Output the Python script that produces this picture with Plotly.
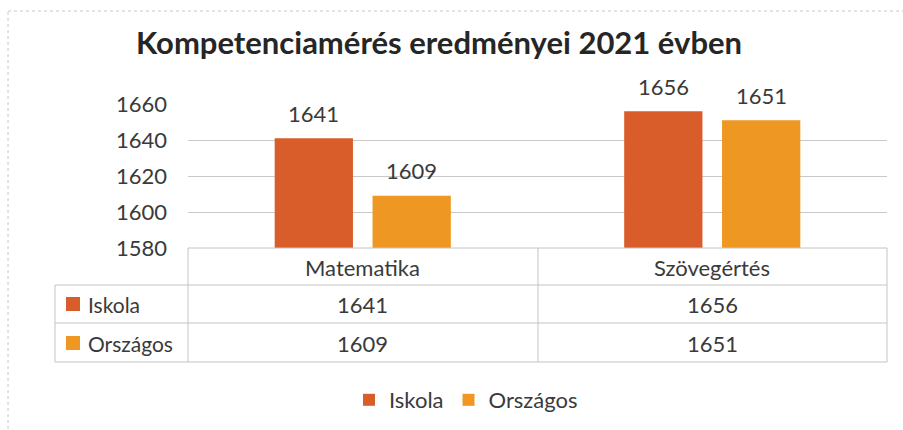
import plotly.graph_objects as go

categories = ["Matematika", "Szövegértés"]
series_names = ["Iskola", "Országos"]
iskola = [1641, 1656]
orszagos = [1609, 1651]
y_ticks = [1580, 1600, 1620, 1640, 1660]
title_text = "Kompetenciamérés eredményei 2021 évben"

colors = ["#D95D2A", "#EE9722"]
txt = "#3a3a3a"
font = "Lato"
fs = 22

W, H = 903, 430
L, R, T, B = 188, 16, 104, 182
pw = W - L - R
ph = H - T - B
bargap, bargroupgap = 0.44, 0.2


def px(x):
    return (x - L) / pw


def py(y):
    return (H - B - y) / ph


fig = go.Figure()
for name, vals, c in zip(series_names, [iskola, orszagos], colors):
    fig.add_trace(go.Bar(
        x=categories, y=vals, name=name, marker=dict(color=c, line=dict(width=0)),
    ))

shapes = []
grid_col = "#c4c4c4"
# outer border
shapes.append(dict(type="rect", xref="paper", yref="paper", x0=px(8), x1=px(910), y0=py(11), y1=py(440),
                   line=dict(color="#c8c8c8", width=1, dash="dot")))
# table horizontal lines
for yy, x0 in [(248, 188), (285, 55), (323, 55), (362, 55)]:
    shapes.append(dict(type="line", xref="paper", yref="paper", x0=px(x0), x1=px(887), y0=py(yy), y1=py(yy),
                       line=dict(color=grid_col, width=1)))
# table vertical lines
for xx, y0 in [(55, 285), (188, 248), (538, 248), (887, 248)]:
    shapes.append(dict(type="line", xref="paper", yref="paper", x0=px(xx), x1=px(xx), y0=py(y0), y1=py(362),
                       line=dict(color=grid_col, width=1)))
# legend keys in table
row_centers = [304, 343]
for yc, c in zip(row_centers, colors):
    shapes.append(dict(type="rect", xref="paper", yref="paper", x0=px(66), x1=px(80), y0=py(yc - 7), y1=py(yc + 7),
                       fillcolor=c, line=dict(width=0)))

annotations = []
# bar value labels
cat_w = pw / len(categories)
slot = cat_w * (1 - bargap) / len(series_names)
for i, vals in enumerate([iskola, orszagos]):
    shift = (i - (len(series_names) - 1) / 2) * slot
    for cat, v in zip(categories, vals):
        annotations.append(dict(x=cat, xref="x", y=v, yref="y", text=str(v), showarrow=False,
                                xshift=shift, yshift=25, xanchor="center", yanchor="middle",
                                font=dict(family=font, size=fs, color=txt)))
# header row
for cat in categories:
    annotations.append(dict(x=cat, xref="x", y=py(267), yref="paper", text=cat, showarrow=False,
                            font=dict(family=font, size=fs, color=txt), xanchor="center", yanchor="middle"))
# rows
for name, vals, yc in zip(series_names, [iskola, orszagos], row_centers):
    annotations.append(dict(x=px(86), xref="paper", y=py(yc), yref="paper", text=name, showarrow=False,
                            font=dict(family=font, size=21, color=txt), xanchor="left", yanchor="middle"))
    for cat, v in zip(categories, vals):
        annotations.append(dict(x=cat, xref="x", y=py(yc), yref="paper", text=str(v), showarrow=False,
                                font=dict(family=font, size=fs, color=txt), xanchor="center", yanchor="middle"))

fig.update_layout(
    width=W, height=H,
    margin=dict(l=L, r=R, t=T, b=B, autoexpand=False),
    paper_bgcolor="white", plot_bgcolor="white",
    title=dict(text=title_text, x=439 / W, xanchor="center", xref="container", y=1 - 43 / H, yanchor="middle",
               yref="container", font=dict(family=font, size=31, color="#262626", weight="bold")),
    barmode="group", bargap=bargap, bargroupgap=bargroupgap,
    xaxis=dict(showticklabels=False, showgrid=False, zeroline=False, showline=False),
    yaxis=dict(range=[1580, 1660], tickvals=y_ticks, showgrid=True, gridcolor="#c8c8c8", gridwidth=1,
               zeroline=False, showline=False, ticklabelstandoff=20,
               tickfont=dict(family=font, size=fs, color=txt)),
    showlegend=True,
    legend=dict(orientation="h", x=px(466), xanchor="center", y=py(400), yanchor="middle",
                font=dict(family=font, size=fs, color=txt), itemsizing="constant"),
    shapes=shapes, annotations=annotations,
)

fig.write_html("out.html", config={"displayModeBar": False},
               post_script="document.body.style.margin='0';document.body.style.overflow='hidden';")
